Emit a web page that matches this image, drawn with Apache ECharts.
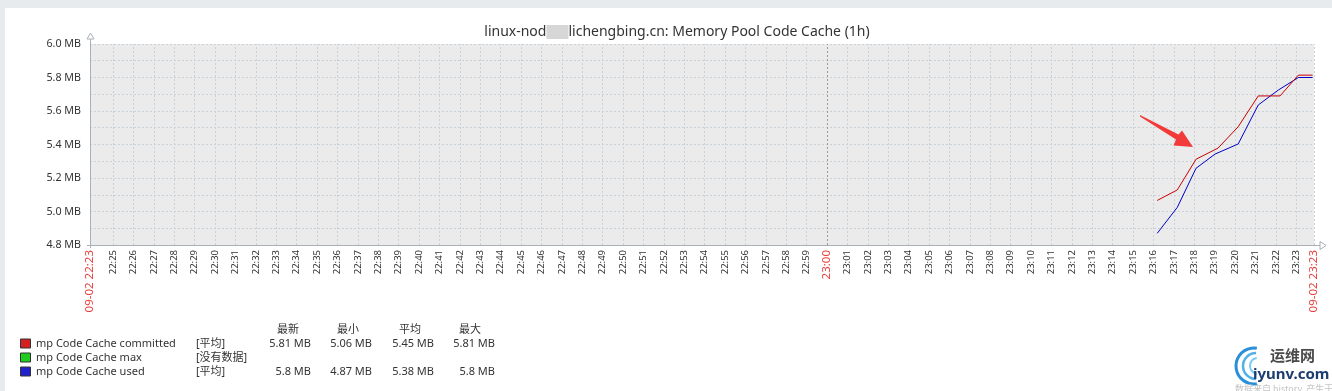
<!DOCTYPE html>
<html><head><meta charset="utf-8">
<script src="https://cdn.jsdelivr.net/npm/echarts@6/dist/echarts.min.js"></script>
<style>
html,body{margin:0;padding:0;background:#e8ebee;width:1332px;height:391px;overflow:hidden;}
#panel{position:absolute;left:5px;top:8px;width:1327px;height:383px;background:#fff;}
#chart{position:absolute;left:0;top:0;width:1332px;height:391px;}
</style></head>
<body><div id="panel"></div><div id="chart"></div>
<script>
// ---- data (x = seconds since 22:00:00 on 09-02) ----
const axisStartLabel = '09-02 22:23';
const axisEndLabel = '09-02 23:23';
const axisStartSec = 1432;   // 22:23:52
const axisEndSec = 5032;     // 23:23:52
const minuteLabels = ['22:25','22:26','22:27','22:28','22:29','22:30','22:31','22:32','22:33','22:34','22:35','22:36','22:37','22:38','22:39','22:40','22:41','22:42','22:43','22:44','22:45','22:46','22:47','22:48','22:49','22:50','22:51','22:52','22:53','22:54','22:55','22:56','22:57','22:58','22:59','23:00','23:01','23:02','23:03','23:04','23:05','23:06','23:07','23:08','23:09','23:10','23:11','23:12','23:13','23:14','23:15','23:16','23:17','23:18','23:19','23:20','23:21','23:22','23:23'];
const highlightLabels = ['23:00'];
const yTicks = [4.8, 5.0, 5.2, 5.4, 5.6, 5.8, 6.0];

const committedTimes = [4571, 4630, 4685, 4750, 4809, 4868, 4932, 4986, 5028];
const committedValues = [5.066, 5.129, 5.312, 5.379, 5.506, 5.690, 5.690, 5.814, 5.814];
const maxTimes = [];
const maxValues = [];
const usedTimes = [4571, 4630, 4685, 4741, 4809, 4868, 4927, 4986, 5028];
const usedValues = [4.870, 5.025, 5.258, 5.343, 5.403, 5.636, 5.725, 5.800, 5.800];

const seriesNames = ['mp Code Cache committed', 'mp Code Cache max', 'mp Code Cache used'];
const seriesColors = ['#c80000', '#00c800', '#0000c8'];
const legendFill = ['#d42020', '#20cc20', '#2020cc'];
const legendTags = ['[平均]', '[没有数据]', '[平均]'];
const legendHeaders = ['最新', '最小', '平均', '最大'];
const legendStats = [
  ['5.81 MB', '5.06 MB', '5.45 MB', '5.81 MB'],
  ['', '', '', ''],
  ['5.8 MB', '4.87 MB', '5.38 MB', '5.8 MB']
];
const titleParts = ['linux-nod', 'lichengbing.cn: Memory Pool Code Cache (1h)'];

// ---- helpers ----
const FONT = '"Noto Sans", "Noto Sans CJK SC", sans-serif';
function labelToSec(s){ const p = s.split(':'); return (+p[0]-22)*3600 + (+p[1])*60; }
const minuteSecs = minuteLabels.map(labelToSec);
const labelMap = {};
minuteLabels.forEach((l,i)=>{ labelMap[minuteSecs[i]] = highlightLabels.indexOf(l) >= 0 ? '{r|'+l+'}' : l; });
labelMap[axisStartSec] = '{r|'+axisStartLabel+'}';
labelMap[axisEndSec] = '{r|'+axisEndLabel+'}';
const labelValues = [axisStartSec].concat(minuteSecs, [axisEndSec]);
const gridValues = minuteSecs.concat([axisEndSec]);
const highlightSecs = highlightLabels.map(labelToSec);

function zip(t, v){ return t.map((x,i)=>[x, v[i]]); }
const seriesData = [zip(committedTimes, committedValues), zip(maxTimes, maxValues), zip(usedTimes, usedValues)];

const chart = echarts.init(document.getElementById('chart'), null, {renderer:'canvas'});

const gridL = 90, gridT = 44, gridR = 1314, gridB = 245;
const axisColor = '#a8b0b8';
const gridColor = '#c9d1d9';

// legend graphics
const legendGraphics = [];
const colsRight = [311, 372, 434, 495];
const colsHeadCenter = [288, 348, 410, 470];
legendHeaders.forEach((h,i)=>legendGraphics.push({type:'text', x: colsHeadCenter[i], y: 330, style:{text:h, font:'11px '+FONT, fill:'#333', align:'center', verticalAlign:'middle'}}));
const rowY = [343.5, 357.5, 371.5];
seriesNames.forEach((n,i)=>{
  legendGraphics.push({type:'rect', shape:{x:20.5, y:rowY[i]-4.5, width:10, height:9}, style:{fill:legendFill[i], stroke:'#333', lineWidth:1}});
  legendGraphics.push({type:'text', x:36, y:rowY[i], style:{text:n, font:'11px '+FONT, fill:'#333', verticalAlign:'middle'}});
  legendGraphics.push({type:'text', x:196, y:rowY[i], style:{text:legendTags[i], font:'11px '+FONT, fill:'#333', verticalAlign:'middle'}});
  legendStats[i].forEach((s,j)=>legendGraphics.push({type:'text', x:colsRight[j], y:rowY[i], style:{text:s, font:'11px '+FONT, fill:'#333', align:'right', verticalAlign:'middle'}}));
});

const decoGraphics = [
  {type:'line', shape:{x1:gridL+0.5, y1:gridT, x2:gridL+0.5, y2:39}, style:{stroke:axisColor, lineWidth:1}},
  {type:'polygon', shape:{points:[[90.5,33],[87,39],[94,39]]}, style:{fill:'#fff', stroke:axisColor, lineWidth:1}},
  {type:'line', shape:{x1:gridR, y1:gridB+0.5, x2:1320, y2:gridB+0.5}, style:{stroke:axisColor, lineWidth:1}},
  {type:'polygon', shape:{points:[[1320,241.5],[1326,245.5],[1320,249.5]]}, style:{fill:'#fff', stroke:axisColor, lineWidth:1}},
  {type:'line', shape:{x1:87, y1:gridB+0.5, x2:gridL, y2:gridB+0.5}, style:{stroke:axisColor, lineWidth:1}},
  {type:'line', shape:{x1:gridL+0.5, y1:gridB, x2:gridL+0.5, y2:248}, style:{stroke:axisColor, lineWidth:1}},
  {type:'polygon', z:100, shape:{points:[[1140,115],[1178.5,134.5],[1182,130.5],[1193,147],[1173.5,145.5],[1176,139.5],[1140,116.5]]}, style:{fill:'#f23a3a'}},
  {type:'arc', shape:{cx:1254, cy:366, r:18, startAngle:Math.PI*0.45, endAngle:Math.PI*1.55}, style:{stroke:'#2a8fd8', lineWidth:3, fill:null}},
  {type:'arc', shape:{cx:1256, cy:366, r:13, startAngle:Math.PI*0.5, endAngle:Math.PI*1.5}, style:{stroke:'#4fb0ea', lineWidth:2.5, fill:null}},
  {type:'arc', shape:{cx:1258, cy:366, r:8, startAngle:Math.PI*0.55, endAngle:Math.PI*1.45}, style:{stroke:'#7ccbf2', lineWidth:2, fill:null}},
  {type:'text', x:1270, y:355, style:{text:'运维网', font:'bold 15px "Noto Sans CJK SC", sans-serif', fill:'#4a4a4a', verticalAlign:'middle'}},
  {type:'text', x:1253, y:375, style:{text:'iyunv.com', font:'bold 15px "Noto Sans", sans-serif', fill:'#1c3d6e', verticalAlign:'middle'}},
  {type:'text', x:1235, y:389, style:{text:'数据来自 history, 产生于 0.14 秒', font:'9px "Noto Sans CJK SC", sans-serif', fill:'#c4c4c4', verticalAlign:'middle'}}
];

const titleText = '{a|'+titleParts[0]+'}{b|    }{a|'+titleParts[1]+'}';

const vGridLines = gridValues.filter(v=>highlightSecs.indexOf(v) < 0).map(v=>({xAxis:v}));
const vHighlightLines = highlightSecs.map(v=>({xAxis:v, lineStyle:{color:'#9a9a9a', type:[2,2], width:1}}));

chart.setOption({
  animation:false,
  title:{text:titleText, left:672, top:27, textAlign:'center', textVerticalAlign:'middle',
    textStyle:{rich:{a:{fontFamily:FONT, fontSize:14, color:'#333', fontWeight:'normal'}, b:{backgroundColor:'#d6d6d6', fontSize:14, width:22, height:14}}}},
  grid:{left:gridL, top:gridT, right:1332-gridR, bottom:391-gridB, show:true, backgroundColor:'#ebebeb', borderWidth:0},
  xAxis:{type:'value', min:axisStartSec, max:axisEndSec,
    axisLine:{show:true, lineStyle:{color:axisColor, width:1}},
    axisTick:{show:false, customValues:labelValues},
    splitLine:{show:false},
    axisLabel:{customValues:labelValues, rotate:90, margin:5, fontFamily:FONT, fontSize:9.5, color:'#333',
      formatter:function(v){ return labelMap[v] !== undefined ? labelMap[v] : ''; },
      rich:{r:{color:'#e8413c', fontSize:11.5, fontFamily:FONT}}}
  },
  yAxis:{type:'value', min:yTicks[0], max:yTicks[yTicks.length-1], interval:0.2,
    axisLine:{show:true, lineStyle:{color:axisColor, width:1}},
    axisTick:{show:false},
    splitLine:{show:true, lineStyle:{color:gridColor, type:[2,2], width:1}},
    minorTick:{show:false, splitNumber:2},
    minorSplitLine:{show:true, lineStyle:{color:gridColor, type:[2,2], width:1}},
    axisLabel:{margin:9, fontFamily:FONT, fontSize:10.7, color:'#333', formatter:function(v){return v.toFixed(1)+' MB';}}
  },
  series: seriesNames.map((n,i)=>({
    name:n, type:'line', data:seriesData[i], showSymbol:false, symbol:'none',
    lineStyle:{color:seriesColors[i], width:1}, itemStyle:{color:seriesColors[i]}, z: i===2?3:4,
    markLine: i===1 ? {silent:true, symbol:'none', label:{show:false}, z:1,
      lineStyle:{color:gridColor, type:[2,2], width:1},
      data: vGridLines.concat(vHighlightLines)} : undefined
  })),
  graphic: legendGraphics.concat(decoGraphics)
});
</script></body></html>
